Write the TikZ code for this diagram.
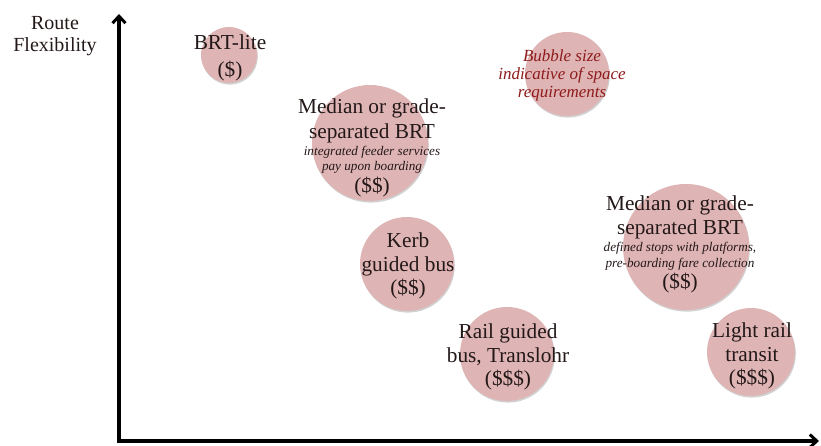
\documentclass[tikz,border=0pt]{standalone}
\usepackage{fontspec}
\setmainfont{Liberation Serif}
\usetikzlibrary{arrows.meta,shadows}
\definecolor{bub}{HTML}{DFB4B5}
\definecolor{txt}{HTML}{231818}
\definecolor{note}{HTML}{8E1B1B}
\tikzset{
  bubble/.style={circle,fill=bub,draw=none,inner sep=0pt,
    drop shadow={shadow xshift=0.8pt,shadow yshift=-1.6pt,opacity=0.18,fill=black}},
  big/.style={font=\fontsize{21.3}{23.5}\selectfont,text=txt,align=center,inner sep=0pt},
  med/.style={font=\fontsize{21.3}{24.5}\selectfont,text=txt,align=center,inner sep=0pt},
  lab/.style={font=\fontsize{20}{22}\selectfont,text=txt,align=center,inner sep=0pt},
  axis/.style={line width=3.6pt,-{Straight Barb[length=7pt,width=13pt,line width=3pt]}}
}
\newcommand{\smI}[1]{{\fontsize{13.2}{15}\selectfont\itshape #1}}
\begin{document}
\begin{tikzpicture}[x=1pt,y=-1pt]
\useasboundingbox (0,0) rectangle (821,446);
% bubbles
\node[bubble,minimum size=56pt]  (b1) at (229,55) {};
\node[bubble,minimum size=116pt] (b2) at (370,143) {};
\node[bubble,minimum size=84pt]  (b3) at (567,74) {};
\node[bubble,minimum size=126pt] (b4) at (686,247) {};
\node[bubble,minimum size=94pt]  (b5) at (407,264) {};
\node[bubble,minimum size=94pt]  (b6) at (507,354) {};
\node[bubble,minimum size=88pt]  (b7) at (751,352) {};
% axes
\coordinate (ybot) at (119,443);
\coordinate (ytop) at (119,14);
\coordinate (xbeg) at (117.2,441);
\coordinate (xend) at (819,441);
\draw[axis] (ybot) -- (ytop);
\draw[axis] (xbeg) -- (xend);
% labels
\node[lab] (ylab) at (55,36) {Route\\Flexibility};
\node[big,font=\fontsize{21.3}{27}\selectfont] (t1) at (230,58) {BRT-lite\\(\$)};
\node[med] (t2) at (372,148) {Median or grade-\\separated BRT\\[-7.5pt]\smI{integrated feeder services}\\[-8.8pt]\smI{pay upon boarding}\\[-3pt](\$\$)};
\node[align=center,text=note,inner sep=0pt,font=\fontsize{17}{18}\selectfont\itshape] (t3) at (562,75) {Bubble size\\indicative of space\\requirements};
\node[med] (t4) at (680,244.5) {Median or grade-\\separated BRT\\[-7.5pt]\smI{defined stops with platforms,}\\[-8.8pt]\smI{pre-boarding fare collection}\\[-3pt](\$\$)};
\node[big] (t5) at (408,266) {Kerb\\guided bus\\(\$\$)};
\node[big] (t6) at (508,357) {Rail guided\\bus, Translohr\\(\$\$\$)};
\node[big] (t7) at (752,356) {Light rail\\transit\\(\$\$\$)};
\end{tikzpicture}
\end{document}
